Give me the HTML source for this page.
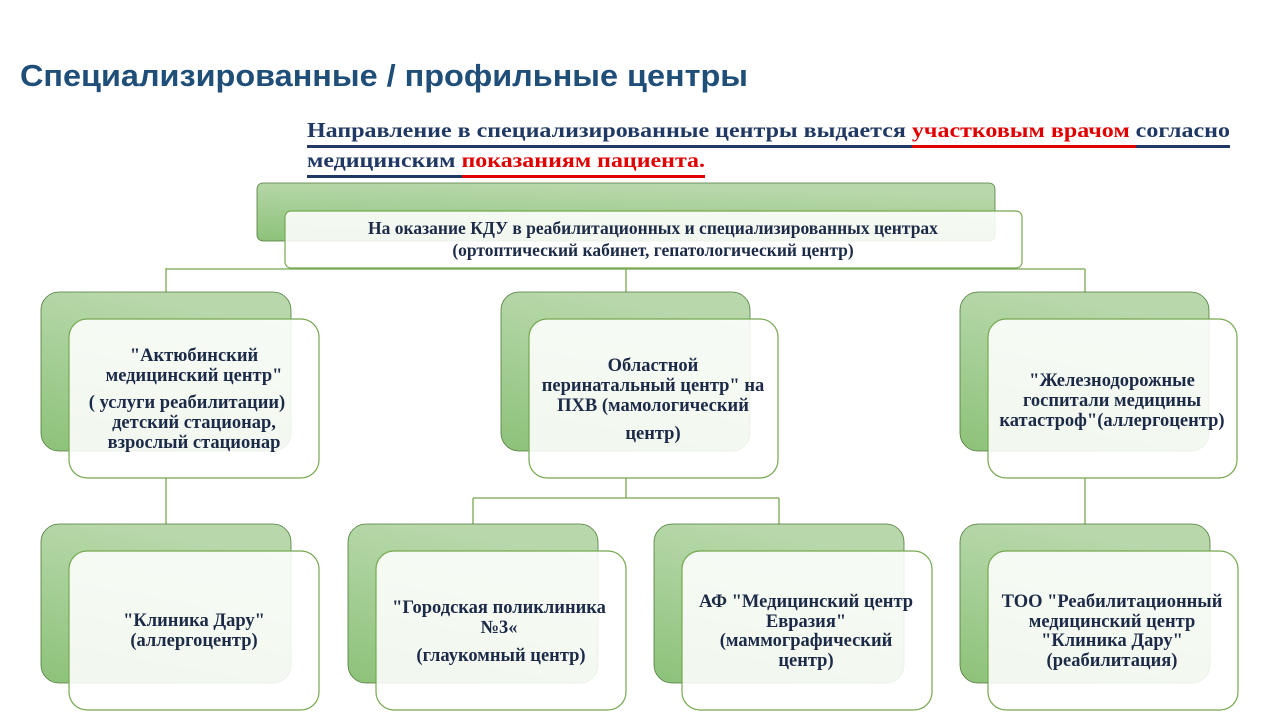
<!DOCTYPE html>
<html><head><meta charset="utf-8"><style>
html,body{margin:0;padding:0;background:#fff}
svg{display:block}
.t{font-family:"Liberation Serif",serif;font-weight:bold;font-size:18.5px;fill:#1c2a48;text-anchor:middle}
</style></head><body>
<svg width="1280" height="720" viewBox="0 0 1280 720" xmlns="http://www.w3.org/2000/svg">
<defs>
<linearGradient id="g" x1="0.3" y1="0" x2="0" y2="1">
<stop offset="0" stop-color="#b8d8ab"/><stop offset="1" stop-color="#8dc27a"/>
</linearGradient>
</defs>
<text x="20" y="86" font-family="Liberation Sans,sans-serif" font-weight="bold" font-size="31" fill="#1f4e79" textLength="728" lengthAdjust="spacingAndGlyphs">Специализированные / профильные центры</text>
<g font-family="Liberation Serif,serif" font-weight="bold" font-size="21">
<text x="307" y="137" textLength="923" lengthAdjust="spacingAndGlyphs"><tspan fill="#1f3864">Направление в специализированные центры выдается </tspan><tspan fill="#e00000">участковым врачом </tspan><tspan fill="#1f3864">согласно</tspan></text>
<text x="307" y="167" textLength="398" lengthAdjust="spacingAndGlyphs"><tspan fill="#1f3864">медицинским </tspan><tspan fill="#e00000">показаниям пациента.</tspan></text>
</g>
<rect x="307" y="145" width="605" height="3" fill="#1f3864"/><rect x="912" y="145" width="224" height="3" fill="#e00000"/><rect x="1136" y="145" width="94" height="3" fill="#1f3864"/>
<rect x="307" y="175" width="155" height="3" fill="#1f3864"/><rect x="462" y="175" width="243" height="3" fill="#e00000"/>

<g stroke="#76a84f" stroke-width="1.3" fill="none">
<path d="M166 268V292M166 269H1085M626 268V292M1085 269V292"/>
<path d="M166 478V524M626 478V498M473 498H779M473 498V524M779 498V524M1085 478V524"/>
</g>

<g stroke="#4f7a3a" stroke-width="0.8" fill="url(#g)">
<rect x="257" y="183" width="738" height="58" rx="6"/>
<rect x="41" y="292" width="250" height="159" rx="18"/>
<rect x="501" y="292" width="249" height="159" rx="18"/>
<rect x="960" y="292" width="249" height="159" rx="18"/>
<rect x="41" y="524" width="250" height="159" rx="18"/>
<rect x="348" y="524" width="250" height="159" rx="18"/>
<rect x="654" y="524" width="250" height="159" rx="18"/>
<rect x="960" y="524" width="250" height="159" rx="18"/>
</g>
<g stroke="#76a84f" stroke-width="1.2" fill="#fff" fill-opacity="0.88">
<rect x="285" y="211" width="737" height="57" rx="6"/>
<rect x="69" y="319" width="250" height="159" rx="18"/>
<rect x="529" y="319" width="249" height="159" rx="18"/>
<rect x="988" y="319" width="249" height="159" rx="18"/>
<rect x="69" y="551" width="250" height="159" rx="18"/>
<rect x="376" y="551" width="250" height="159" rx="18"/>
<rect x="682" y="551" width="250" height="159" rx="18"/>
<rect x="988" y="551" width="250" height="159" rx="18"/>
</g>

<text class="t" style="font-size:17.5px"><tspan x="653" y="234">На оказание КДУ в реабилитационных и специализированных центрах</tspan><tspan x="653" y="256">(ортоптический кабинет, гепатологический центр)</tspan></text>
<text class="t"><tspan x="194" y="361">"Актюбинский</tspan><tspan x="194" y="381">медицинский центр"</tspan><tspan x="187" y="408">( услуги реабилитации)</tspan><tspan x="194" y="428">детский стационар,</tspan><tspan x="194" y="448">взрослый стационар</tspan></text>
<text class="t"><tspan x="653" y="371">Областной</tspan><tspan x="653" y="391">перинатальный центр" на</tspan><tspan x="653" y="411">ПХВ (мамологический</tspan><tspan x="653" y="439">центр)</tspan></text>
<text class="t"><tspan x="1112" y="386">"Железнодорожные</tspan><tspan x="1112" y="406">госпитали медицины</tspan><tspan x="1112" y="426">катастроф"(аллергоцентр)</tspan></text>
<text class="t"><tspan x="194" y="626">"Клиника Дару"</tspan><tspan x="194" y="646">(аллергоцентр)</tspan></text>
<text class="t"><tspan x="499" y="613">"Городская поликлиника</tspan><tspan x="499" y="633">№3«</tspan><tspan x="501" y="661">(глаукомный центр)</tspan></text>
<text class="t"><tspan x="806" y="607">АФ "Медицинский центр</tspan><tspan x="806" y="627">Евразия"</tspan><tspan x="806" y="646">(маммографический</tspan><tspan x="806" y="666">центр)</tspan></text>
<text class="t"><tspan x="1112" y="607">ТОО "Реабилитационный</tspan><tspan x="1112" y="627">медицинский центр</tspan><tspan x="1112" y="646">"Клиника Дару"</tspan><tspan x="1112" y="666">(реабилитация)</tspan></text>
</svg>
</body></html>
